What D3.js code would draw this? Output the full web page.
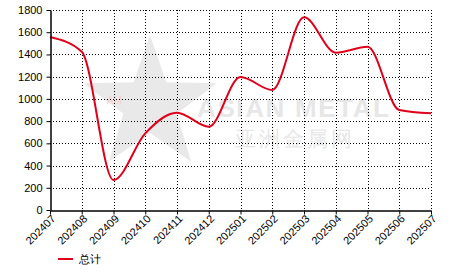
<!DOCTYPE html>
<html>
<head>
<meta charset="utf-8">
<script src="https://cdn.jsdelivr.net/npm/d3@7"></script>
<style>
  body { margin: 0; background: #fff; }
  text { font-family: Arial, "Liberation Sans", sans-serif; }
</style>
</head>
<body>
<script>
// data
var months = ["202407", "202408", "202409", "202410", "202411", "202412",
              "202501", "202502", "202503", "202504", "202505", "202506", "202507"];
var totals = [1557, 1425, 270, 690, 876, 750, 1197, 1080, 1734, 1416, 1470, 900, 870];
var yTicks = [0, 200, 400, 600, 800, 1000, 1200, 1400, 1600, 1800];
var seriesName = "总计";

var margin = {top: 10, right: 35, bottom: 62, left: 50},
    width = 466 - margin.left - margin.right,
    height = 272 - margin.top - margin.bottom;

var svg = d3.select("body").append("svg")
    .attr("width", 466)
    .attr("height", 272);

var g = svg.append("g")
    .attr("transform", "translate(" + margin.left + "," + margin.top + ")");

var x = d3.scalePoint().domain(months).range([0, width]);
var y = d3.scaleLinear().domain([0, 1800]).range([height, 0]);

// watermark
var wm = g.append("g").attr("opacity", 0.55);
var star = d3.range(10).map(function (i) {
    var a = -Math.PI / 2 + i * Math.PI / 5;
    var r = i % 2 ? 28 : 70;
    return [100 + r * Math.cos(a), 95 + r * Math.sin(a)];
});
wm.append("path")
    .attr("d", "M" + star.join("L") + "Z")
    .attr("fill", "#d8d8d8");
wm.append("text").attr("x", 57).attr("y", 94)
    .attr("font-size", 10).attr("fill", "#f4a8a8").text("AM");
wm.append("text").attr("x", 147).attr("y", 107)
    .attr("font-size", 26).attr("font-weight", "bold").attr("fill", "#d4d4d4")
    .attr("textLength", 192).text("ASIAN METAL");
wm.append("text").attr("x", 185).attr("y", 136)
    .attr("font-size", 21).attr("fill", "#d4d4d4")
    .attr("font-family", "Noto Sans CJK SC").attr("textLength", 117)
    .text("亚洲金属网");

// grid
g.append("g").selectAll("line")
    .data(yTicks.slice(1))
    .enter().append("line")
    .attr("x1", 0).attr("x2", width)
    .attr("y1", function (d) { return Math.round(y(d)) + 0.5; })
    .attr("y2", function (d) { return Math.round(y(d)) + 0.5; })
    .attr("stroke", "#000").attr("stroke-dasharray", "1,2");
g.append("g").selectAll("line")
    .data(months.slice(1))
    .enter().append("line")
    .attr("x1", function (d) { return Math.round(x(d)) + 0.5; })
    .attr("x2", function (d) { return Math.round(x(d)) + 0.5; })
    .attr("y1", 0).attr("y2", height)
    .attr("stroke", "#000").attr("stroke-dasharray", "1,2");

// line
var line = d3.line()
    .x(function (d, i) { return x(months[i]); })
    .y(function (d) { return y(d); })
    .curve(d3.curveMonotoneX);

g.append("path")
    .datum(totals)
    .attr("d", line)
    .attr("fill", "none")
    .attr("stroke", "#e0001b")
    .attr("stroke-width", 2);

// axes
var yAxis = g.append("g")
    .attr("transform", "translate(0.5,0)")
    .call(d3.axisLeft(y).tickValues(yTicks).tickSize(4).tickSizeOuter(0).tickFormat(d3.format("d")));
yAxis.selectAll("text").attr("font-size", 11).attr("fill", "#000").attr("dx", "-1");

var xAxis = g.append("g")
    .attr("transform", "translate(0," + (height + 0.5) + ")")
    .call(d3.axisBottom(x).tickSize(4).tickSizeOuter(0));
xAxis.selectAll("text")
    .attr("font-size", 11).attr("fill", "#000")
    .attr("text-anchor", "end")
    .attr("dx", "-0.2em").attr("dy", "0.3em")
    .attr("transform", "rotate(-45)");
g.selectAll(".domain").attr("stroke", "#000").attr("stroke-width", 1.5);
g.selectAll(".tick line").attr("stroke", "#000");

// legend
var lg = svg.append("g").attr("transform", "translate(58,259)");
lg.append("line").attr("x1", 0).attr("x2", 15).attr("stroke", "#e0001b").attr("stroke-width", 2);
lg.append("text").attr("x", 21).attr("y", 4).attr("font-size", 11)
    .attr("font-family", "Noto Sans CJK SC").text(seriesName);
</script>
</body>
</html>
